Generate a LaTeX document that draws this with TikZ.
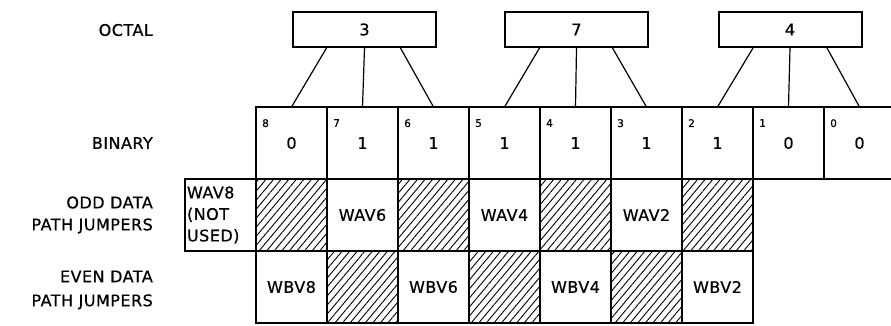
\documentclass[tikz,border=0pt]{standalone}
\usepackage{fontspec}
\setmainfont[LetterSpace=3,FakeBold=0.6]{DejaVu Sans}
\usetikzlibrary{patterns.meta}
\begin{document}
\begin{tikzpicture}[x=1pt,y=-1pt,every node/.style={font=\fontsize{16}{22}\selectfont},
  cell/.style={draw,line width=2pt,minimum width=71pt,minimum height=72pt,inner sep=0pt,outer sep=0pt},
  hatch/.style={cell,pattern={Lines[angle=50,distance=5.8pt,line width=0.9pt]}},
  octbox/.style={draw,line width=2pt,minimum width=143pt,minimum height=35pt,inner sep=0pt},
  idx/.style={anchor=north west,inner sep=0pt,xshift=6pt,yshift=-12pt,font=\fontsize{10.5}{12}\selectfont},
  rowlab/.style={anchor=east,align=right,inner sep=0pt},
  link/.style={line width=1.2pt}]
\clip (0,0) rectangle (891,325);
\fill[white] (0,0) rectangle (891,325);
% row labels
\node[rowlab] (lo) at (153,30) {OCTAL};
\node[rowlab] (lb) at (153,143) {BINARY};
\node[rowlab] (lodd) at (153,215) {ODD DATA\\PATH JUMPERS};
\node[rowlab,font=\fontsize{16}{24}\selectfont] (lev) at (153,290) {EVEN DATA\\PATH JUMPERS};
% octal digits
\node[octbox] (oct3) at (364.5,29.5) {3};
\node[octbox] (oct7) at (576.5,29.5) {7};
\node[octbox] (oct4) at (790,29.5) {4};
% binary bits
\node[cell,label={[idx]north west:8}] (b8) at (291.5,143) {0};
\node[cell,label={[idx]north west:7}] (b7) at (362.5,143) {1};
\node[cell,label={[idx]north west:6}] (b6) at (433.5,143) {1};
\node[cell,label={[idx]north west:5}] (b5) at (504.5,143) {1};
\node[cell,label={[idx]north west:4}] (b4) at (575.5,143) {1};
\node[cell,label={[idx]north west:3}] (b3) at (646.5,143) {1};
\node[cell,label={[idx]north west:2}] (b2) at (717.5,143) {1};
\node[cell,label={[idx]north west:1}] (b1) at (788.5,143) {0};
\node[cell,label={[idx]north west:0}] (b0) at (859.5,143) {0};
% odd data path jumpers
\node[cell,align=left,text width=67pt,font=\fontsize{16}{21.5}\selectfont] (wav8) at (220.5,215) {WAV8\\(NOT\\USED)};
\node[hatch] (oddx7) at (291.5,215) {};
\node[cell] (wav6) at (362.5,215) {WAV6};
\node[hatch] (oddx5) at (433.5,215) {};
\node[cell] (wav4) at (504.5,215) {WAV4};
\node[hatch] (oddx3) at (575.5,215) {};
\node[cell] (wav2) at (646.5,215) {WAV2};
\node[hatch] (oddx1) at (717.5,215) {};
% even data path jumpers
\node[cell] (wbv8) at (291.5,287) {WBV8};
\node[hatch] (evx7) at (362.5,287) {};
\node[cell] (wbv6) at (433.5,287) {WBV6};
\node[hatch] (evx5) at (504.5,287) {};
\node[cell] (wbv4) at (575.5,287) {WBV4};
\node[hatch] (evx3) at (646.5,287) {};
\node[cell] (wbv2) at (717.5,287) {WBV2};
% octal to binary
\draw[link] ([xshift=-38pt]oct3.south) -- (b8.north);
\draw[link] (oct3.south) -- (b7.north);
\draw[link] ([xshift=36pt]oct3.south) -- (b6.north);
\draw[link] ([xshift=-37pt]oct7.south) -- (b5.north);
\draw[link] (oct7.south) -- (b4.north);
\draw[link] ([xshift=36pt]oct7.south) -- (b3.north);
\draw[link] ([xshift=-37pt]oct4.south) -- (b2.north);
\draw[link] (oct4.south) -- (b1.north);
\draw[link] ([xshift=37pt]oct4.south) -- (b0.north);
\end{tikzpicture}
\end{document}
